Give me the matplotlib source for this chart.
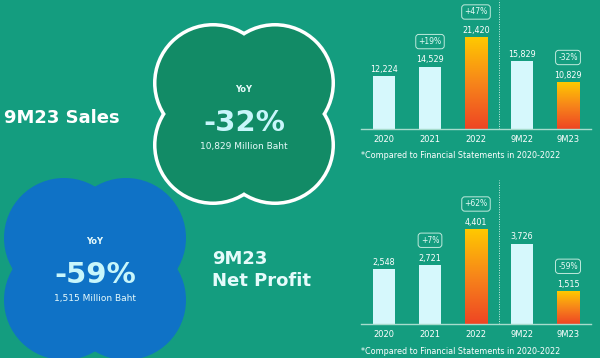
import matplotlib
matplotlib.use('Agg')
import matplotlib.pyplot as plt
from matplotlib.patches import Circle, Rectangle
from matplotlib.colors import LinearSegmentedColormap
import numpy as np

periods = ['2020', '2021', '2022', '9M22', '9M23']
sales = [12224, 14529, 21420, 15829, 10829]
profit = [2548, 2721, 4401, 3726, 1515]
sales_chg = ['', '+19%', '+47%', '', '-32%']
profit_chg = ['', '+7%', '+62%', '', '-59%']
highlight = [False, False, True, False, True]

bg = '#149d7f'
green = '#128b66'
blue = '#0f72c6'
light = '#d6f8fc'
cyan = '#c8f6fb'
grad = LinearSegmentedColormap.from_list('grad', ['#ee4524', '#f7851a', '#ffc900'])

fig = plt.figure(figsize=(6, 3.58), dpi=100, facecolor=bg)

# background layer in pixel coordinates
bgax = fig.add_axes([0, 0, 1, 1], zorder=0)
bgax.set_xlim(0, 600)
bgax.set_ylim(358, 0)
bgax.axis('off')
bgax.set_facecolor('none')


def quatrefoil(ax, cx, cy, d, r, color, edge=None, lw=0):
    offs = [(-d, -d), (d, -d), (-d, d), (d, d)]
    if edge:
        for ox, oy in offs:
            ax.add_patch(Circle((cx + ox, cy + oy), r, color=edge, lw=0))
        r = r - lw
    for ox, oy in offs:
        ax.add_patch(Circle((cx + ox, cy + oy), r, color=color, lw=0))
    # fill the middle so the lobes join up
    ax.add_patch(Rectangle((cx - d, cy - d), 2 * d, 2 * d, color=color, lw=0))


quatrefoil(bgax, 95, 269, 31, 60, blue)
quatrefoil(bgax, 244, 114, 31, 60, green, edge='white', lw=3.5)

# sales bubble
bgax.text(244, 90, 'YoY', color='#e8fbfb', fontsize=6, fontweight='bold', ha='center', va='center')
bgax.text(244, 123, '-32%', color=cyan, fontsize=21, fontweight='bold', ha='center', va='center')
bgax.text(244, 147, '10,829 Million Baht', color='#e8fbfb', fontsize=6.5, ha='center', va='center')
bgax.text(4, 118, '9M23 Sales', color='white', fontsize=13, fontweight='bold', ha='left', va='center')

# profit bubble
bgax.text(95, 241, 'YoY', color='#e8fbfb', fontsize=6, fontweight='bold', ha='center', va='center')
bgax.text(95, 275, '-59%', color=cyan, fontsize=21, fontweight='bold', ha='center', va='center')
bgax.text(95, 298, '1,515 Million Baht', color='#e8fbfb', fontsize=6.5, ha='center', va='center')
bgax.text(212, 259, '9M23', color='#e6fbfb', fontsize=13, fontweight='bold', ha='left', va='center')
bgax.text(212, 281, 'Net Profit', color='#e6fbfb', fontsize=13, fontweight='bold', ha='left', va='center')

note = '*Compared to Financial Statements in 2020-2022'
bgax.text(361, 155, note, color='white', fontsize=5.8, ha='left', va='center')
bgax.text(361, 351, note, color='white', fontsize=5.8, ha='left', va='center')


def bar_panel(rect, values, changes, ymax):
    ax = fig.add_axes(rect, zorder=2)
    ax.set_facecolor('none')
    x = np.arange(len(values))
    bars = ax.bar(x, values, width=0.48, color=light, zorder=2)
    for b, v, hl, c in zip(bars, values, highlight, changes):
        if hl:
            b.set_facecolor('none')
            x0 = b.get_x()
            im = ax.imshow(np.linspace(0, 1, 256).reshape(-1, 1), cmap=grad, origin='lower',
                           extent=[x0, x0 + b.get_width(), 0, v], aspect='auto', zorder=2)
            im.set_clip_path(b)
        ax.annotate(f'{v:,}', (b.get_x() + b.get_width() / 2, v), xytext=(0, 5),
                    textcoords='offset points', ha='center', va='center',
                    color='white', fontsize=5.8)
        if c:
            ax.annotate(c, (b.get_x() + b.get_width() / 2, v), xytext=(0, 18),
                        textcoords='offset points', ha='center', va='center',
                        color='#e6fbf6', fontsize=5.5,
                        bbox=dict(boxstyle='round,pad=0.35,rounding_size=0.4', fc='none',
                                  ec='#bfeadd', lw=0.7))
    ax.set_xlim(-0.5, 4.5)
    ax.set_ylim(0, ymax)
    ax.axhline(0, color='#a7dccd', lw=1.0, zorder=3, clip_on=False)
    ax.axvline(2.5, color='#d0f0e8', lw=0.7, ls=(0, (1, 1.5)), zorder=1)
    for s in ax.spines.values():
        s.set_visible(False)
    ax.set_yticks([])
    ax.set_xticks(x, periods)
    ax.tick_params(axis='x', length=0, pad=4, labelsize=6, labelcolor='white')
    return ax


bar_panel([361 / 600, (358 - 129) / 358, 230 / 600, 129 / 358], sales, sales_chg, 21420 * 129 / 92)
bar_panel([361 / 600, (358 - 324) / 358, 230 / 600, 144 / 358], profit, profit_chg, 4401 * 144 / 95)

fig.savefig('out.png', dpi=100, facecolor=bg)
